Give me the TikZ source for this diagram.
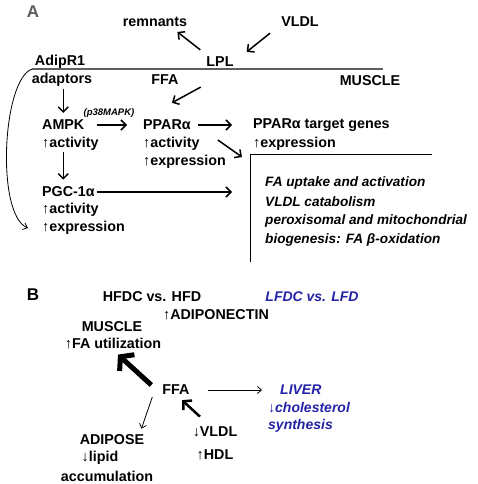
\documentclass[tikz,border=0pt]{standalone}
\usepackage{fontspec}
\setmainfont{Liberation Sans}
\usepackage{xcolor}
\usetikzlibrary{arrows.meta}

\definecolor{dietblue}{RGB}{35,35,165}
\definecolor{membgray}{RGB}{95,95,95}

\tikzset{
  lbl/.style={font=\fontsize{14.3}{16}\selectfont\bfseries, inner sep=0pt},
  itl/.style={font=\fontsize{14}{16}\selectfont\bfseries\itshape, inner sep=0pt},
  boxitl/.style={font=\fontsize{13.6}{16}\selectfont\bfseries\itshape, inner sep=0pt},
  panel/.style={font=\fontsize{17}{19}\selectfont\bfseries, inner sep=0pt},
  arr/.style={line width=1.5pt, -{Straight Barb[length=5pt,width=10pt]}},
  thinarr/.style={line width=0.8pt, -{Straight Barb[length=4pt,width=7pt]}},
  fatarr/.style={line width=5pt, -{Straight Barb[length=9pt,width=22pt]}},
}

\begin{document}
\begin{tikzpicture}[x=1pt, y=-1pt]
    \useasboundingbox (0,0) rectangle (477,484);

    % Panel A
    \node[panel, text=membgray] (panelA) at (33,12) {A};
    \node[lbl] (remnants) at (155,22) {remnants};
    \node[lbl] (vldlA) at (300,22) {VLDL};
    \node[lbl] (adipr) at (60,62) {AdipR1};
    \node[lbl] (lpl) at (220,62) {LPL};

    % the muscle membrane
    \coordinate (membL) at (32,69);
    \coordinate (membR) at (383,69);
    \draw[membgray, line width=1.5pt] (membL) -- (membR);

    \node[lbl] (adaptors) at (62,80) {adaptors};
    \node[lbl] (ffaA) at (165,80) {FFA};
    \node[lbl] (muscleA) at (370,81) {MUSCLE};

    % signalling column
    \node[lbl, anchor=west] (ampk) at (42,125) {AMPK};
    \node[lbl, anchor=west] (ampkact) at (42,144) {↑activity};
    \node[font=\fontsize{9.5}{11}\selectfont\bfseries\itshape, inner sep=0pt] (p38) at (109,113) {(p38MAPK)};
    \node[lbl, anchor=west] (ppar) at (143,125) {PPARα};
    \node[lbl, anchor=west] (pparact) at (143,144) {↑activity};
    \node[lbl, anchor=west] (pparexp) at (143,162) {↑expression};
    \node[lbl, anchor=west] (target) at (253,125) {PPARα target genes};
    \node[lbl, anchor=west] (targetexp) at (253,144) {↑expression};
    \node[lbl, anchor=west] (pgc) at (42,192) {PGC-1α};
    \node[lbl, anchor=west] (pgcact) at (42,210) {↑activity};
    \node[lbl, anchor=west] (pgcexp) at (42,228) {↑expression};

    % bracket with the target processes
    \coordinate (boxtl) at (250,154);
    \coordinate (boxtr) at (432,154);
    \coordinate (boxbl) at (250,262);
    \draw[line width=1pt] (boxtr) -- (boxtl) -- (boxbl);
    \node[boxitl, anchor=west] (fauptake) at (265,183) {FA uptake and activation};
    \node[boxitl, anchor=west] (vldlcat) at (265,202) {VLDL catabolism};
    \node[boxitl, anchor=west] (perox) at (265,221) {peroxisomal and mitochondrial};
    \node[boxitl, anchor=west] (biogen) at (265,240) {biogenesis: FA β-oxidation};

    % arrows of panel A
    \draw[arr] ([xshift=-6pt,yshift=7pt]lpl.north west) -- ([xshift=-10pt,yshift=-5pt]remnants.south east);
    \draw[arr] ([xshift=-11pt,yshift=-6pt]vldlA.south west) -- ([xshift=13pt,yshift=5pt]lpl.north east);
    \draw[arr] ([xshift=22pt,yshift=-2pt]ffaA.south east) -- ([xshift=5pt,yshift=17pt]ppar.north);
    \draw[arr, shorten <=2pt, shorten >=7pt] (adaptors.south -| ampk.north) -- (ampk.north);
    \draw[arr, shorten <=12pt, shorten >=16pt] (ampk.east) -- (ppar.west);
    \draw[arr, shorten <=7pt, shorten >=21pt] (ppar.east) -- (target.west);
    \draw[arr] ([xshift=27pt,yshift=-15pt]ppar.east) -- ([xshift=-8pt,yshift=-3pt]boxtl);
    \draw[arr, shorten <=1pt, shorten >=7pt] (ampkact.south -| ampk.south) -- (pgc.north -| ampk.south);
    \draw[arr, shorten <=2pt, shorten >=21pt] (pgc.east) -- (target.west |- pgc.east);
    \draw[thinarr] (membL) .. controls (2,80) and (-4,215) .. ([xshift=-14pt]pgcexp.west);

    % Panel B
    \node[panel] (panelB) at (33,295) {B};
    \node[lbl] (hfdc) at (152,297) {HFDC vs. HFD};
    \node[itl, text=dietblue] (lfdc) at (312,297) {LFDC vs. LFD};
    \node[lbl] (adipo) at (216,315) {↑ADIPONECTIN};
    \node[lbl] (muscleB) at (112,327) {MUSCLE};
    \node[lbl] (fautil) at (113,344) {↑FA utilization};
    \node[lbl] (ffaB) at (176,390) {FFA};
    \node[itl, text=dietblue, anchor=west] (liver) at (280,390) {LIVER};
    \node[itl, text=dietblue, anchor=west] (chol) at (268,408) {↓cholesterol};
    \node[itl, text=dietblue, anchor=west] (synth) at (268,426) {synthesis};
    \node[lbl] (vldlB) at (215,432) {↓VLDL};
    \node[lbl] (hdl) at (215,455) {↑HDL};
    \node[lbl] (adipose) at (112,440) {ADIPOSE};
    \node[lbl] (lipid) at (100,458) {↓lipid};
    \node[lbl] (accum) at (107,476) {accumulation};

    % arrows of panel B
    \draw[fatarr] ([xshift=-11pt,yshift=5pt]ffaB.west) -- ([xshift=5pt,yshift=-5pt]fautil.south);
    \draw[thinarr, shorten <=18pt, shorten >=18pt] (ffaB.east) -- (liver.west);
    \draw[thinarr] ([xshift=-10pt,yshift=-2pt]ffaB.south west) -- ([xshift=-3pt,yshift=6pt]adipose.north east);
    \draw[line width=2.5pt, -{Straight Barb[length=6pt,width=13pt]}] ([xshift=-15pt,yshift=10pt]vldlB.north) -- ([xshift=6pt,yshift=-5pt]ffaB.south);

\end{tikzpicture}
\end{document}
